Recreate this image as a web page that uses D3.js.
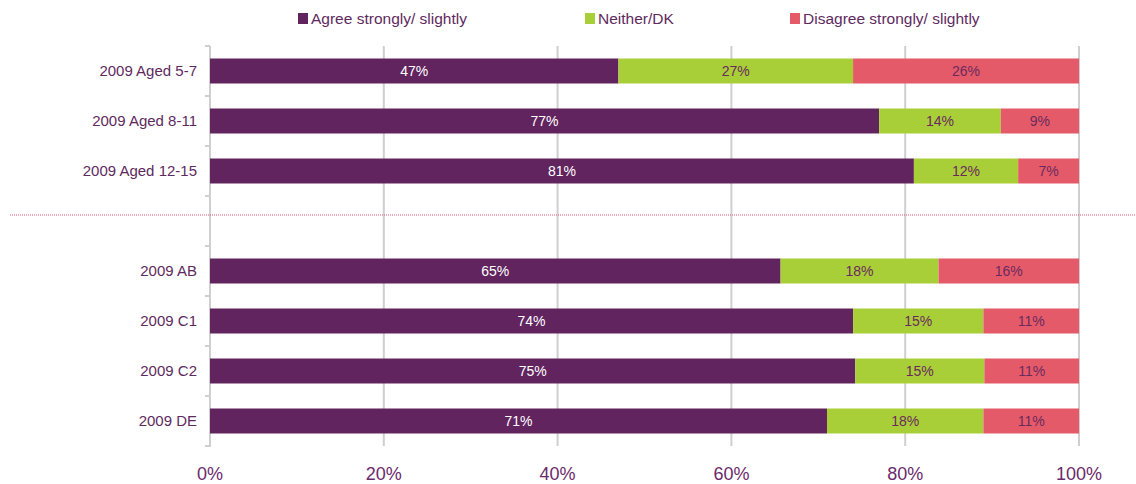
<html>
<head>
    <script src="https://d3js.org/d3.v7.min.js"></script>
</head>
<style>
    body { margin: 0; background: white; }
    svg { font-family: "Liberation Sans", Arial, sans-serif; }
    .grid line { stroke: #cfcfcf; stroke-width: 2px; }
    .cat { fill: #5e2a5e; font-size: 15px; }
    .tick-label { fill: #6b2a6b; font-size: 18px; }
    .legend text { fill: #5e2a5e; font-size: 15.5px; }
</style>
<body>
    <svg id="chart" width="1136" height="484"></svg>
    <script>
        // rows, with a blank spacer between the age groups and social grades
        const categories = ["2009 Aged 5-7", "2009 Aged 8-11", "2009 Aged 12-15", "", "2009 AB", "2009 C1", "2009 C2", "2009 DE"];
        const agree    = [47, 77, 81, null, 65, 74, 75, 71];
        const neither  = [27, 14, 12, null, 18, 15, 15, 18];
        const disagree = [26,  9,  7, null, 16, 11, 11, 11];
        const seriesNames = ["Agree strongly/ slightly", "Neither/DK", "Disagree strongly/ slightly"];
        const xTicks = [0, 0.2, 0.4, 0.6, 0.8, 1];

        const colors = ["#62245f", "#a9cf38", "#e55a68"];
        const labelColors = ["#ffffff", "#6b2a5e", "#6b2a5e"];

        const svg = d3.select("svg#chart");
        const m = { left: 210, right: 1079, top: 46, bottom: 446 };

        const x = d3.scaleLinear().domain([0, 1]).range([m.left, m.right]);
        const y = d3.scaleBand().domain(d3.range(categories.length)).range([m.top, m.bottom]).paddingInner(0.5).paddingOuter(0.25);

        const rows = categories.map((c, i) => ({ i: i, name: c, a: agree[i], n: neither[i], d: disagree[i] }))
                               .filter(r => r.a != null);
        const keys = ["a", "n", "d"];
        const stack = d3.stack().keys(keys).offset(d3.stackOffsetExpand);
        const layers = stack(rows);

        // gridlines
        svg.append("g").attr("class", "grid")
           .selectAll("line").data(xTicks.slice(1)).join("line")
           .attr("x1", d => x(d)).attr("x2", d => x(d))
           .attr("y1", m.top).attr("y2", m.bottom);

        // left axis
        svg.append("line")
           .attr("x1", m.left).attr("x2", m.left).attr("y1", m.top).attr("y2", m.bottom + 1)
           .attr("stroke", "#cfcfcf").attr("stroke-width", 2);
        const bandStep = y.step();
        svg.append("g").selectAll("line").data(d3.range(categories.length + 1)).join("line")
           .attr("x1", m.left - 5).attr("x2", m.left)
           .attr("y1", d => m.top + d * bandStep).attr("y2", d => m.top + d * bandStep)
           .attr("stroke", "#cfcfcf").attr("stroke-width", 2);

        // bars
        layers.forEach((layer, k) => {
            const g = svg.append("g");
            g.selectAll("rect").data(layer).join("rect")
             .attr("x", d => x(d[0]))
             .attr("width", d => x(d[1]) - x(d[0]))
             .attr("y", d => y(d.data.i))
             .attr("height", y.bandwidth())
             .attr("fill", colors[k]);
            g.selectAll("text").data(layer).join("text")
             .attr("x", d => (x(d[0]) + x(d[1])) / 2)
             .attr("y", d => y(d.data.i) + y.bandwidth() / 2 + 5)
             .attr("text-anchor", "middle")
             .attr("font-size", 14)
             .attr("fill", labelColors[k])
             .text(d => d.data[keys[k]] + "%");
        });

        // category labels
        svg.append("g").selectAll("text").data(rows).join("text")
           .attr("class", "cat")
           .attr("x", m.left - 13)
           .attr("y", d => y(d.i) + y.bandwidth() / 2 + 5)
           .attr("text-anchor", "end")
           .text(d => d.name);

        // x tick labels
        svg.append("g").selectAll("text").data(xTicks).join("text")
           .attr("class", "tick-label")
           .attr("x", d => x(d))
           .attr("y", 480)
           .attr("text-anchor", "middle")
           .text(d => d3.format(".0%")(d));

        // dotted separator
        svg.append("line")
           .attr("x1", 10).attr("x2", 1136).attr("y1", 215).attr("y2", 215)
           .attr("stroke", "#e0557a").attr("stroke-width", 1)
           .attr("stroke-dasharray", "1,1");

        // legend
        const legendX = [298, 585, 790];
        const legend = svg.append("g").attr("class", "legend");
        seriesNames.forEach((s, k) => {
            legend.append("rect").attr("x", legendX[k]).attr("y", 13).attr("width", 10).attr("height", 11).attr("fill", colors[k]);
            legend.append("text").attr("x", legendX[k] + 13).attr("y", 24).text(s);
        });
    </script>
</body>
</html>
